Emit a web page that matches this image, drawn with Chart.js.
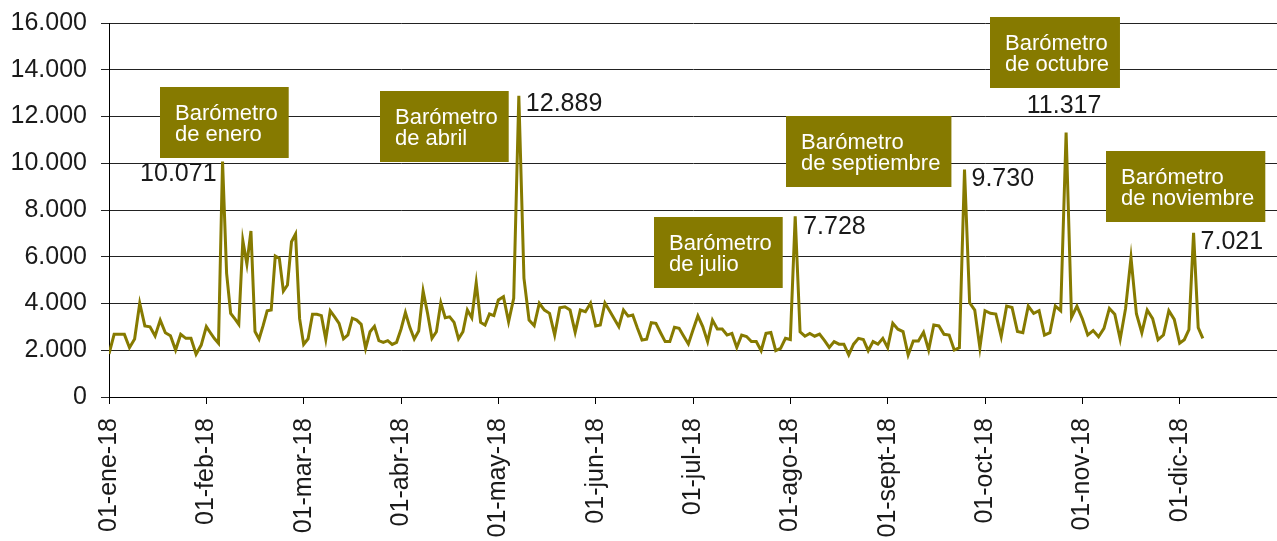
<!DOCTYPE html>
<html lang="es">
<head>
<meta charset="utf-8">
<script src="https://cdn.jsdelivr.net/npm/chart.js@4.4.1/dist/chart.umd.min.js"></script>
<style>
  html, body { margin: 0; padding: 0; background: #fff; }
  #wrap { width: 1277px; height: 541px; }
</style>
</head>
<body>
<div id="wrap"><canvas id="grafico" width="1277" height="541"></canvas></div>
<script>
// Etiquetas del eje X (una por mes)
const etiquetasMes = ['01-ene-18','01-feb-18','01-mar-18','01-abr-18','01-may-18','01-jun-18',
                      '01-jul-18','01-ago-18','01-sept-18','01-oct-18','01-nov-18','01-dic-18'];

// Valores diarios (días hábiles) leídos por mes
const ene = [1840, 2680, 2680, 2680, 2110, 2480, 4010, 3040, 3000, 2610, 3290, 2750, 2620, 2010, 2680, 2510, 2510, 1830, 2220];
const feb = [3010, 2750, 2500, 2300, 10071, 5290, 3580, 3350, 3110, 6690, 5690, 7100, 2800, 2480, 3050, 3690, 3720, 6030, 5930, 4530, 4790, 6640, 6970, 3350];
const mar = [2250, 2490, 3540, 3540, 3480, 2470, 3690, 3430, 3150, 2490, 2660, 3370, 3290, 3110, 2080, 2790, 3020, 2410, 2340, 2410, 2250, 2340];
const abr = [2900, 3610, 2980, 2480, 2820, 4530, 3580, 2510, 2790, 4030, 3390, 3430, 3190, 2490, 2790, 3720, 3390, 4890, 3190, 3080, 3550, 3480];
const may = [4150, 4290, 3220, 4220, 12889, 5080, 3290, 3050, 4010, 3720, 3580, 2650, 3820, 3860, 3720, 2770, 3720, 3650, 4010];
const jun = [3040, 3080, 4020, 3690, 3350, 3010, 3720, 3460, 3510, 2950, 2440, 2470, 3180, 3150, 2750, 2370, 2370, 2980, 2940, 2600, 2270];
const jul = [2870, 3470, 3010, 2370, 3290, 2910, 2910, 2650, 2720, 2120, 2650, 2590, 2370, 2370, 1980, 2720, 2760, 1980, 2080, 2510];
const ago = [2460, 7728, 2790, 2600, 2720, 2600, 2690, 2420, 2120, 2370, 2260, 2260, 1800, 2260, 2510, 2460, 1980, 2370, 2260, 2510];
const sep = [2110, 3150, 2900, 2800, 1800, 2400, 2400, 2770, 2010, 3080, 3040, 2680, 2650, 2010, 2110, 9730, 4030, 3720, 2110];
const oct = [3690, 3580, 3550, 2580, 3890, 3830, 2800, 2750, 3890, 3580, 3690, 2650, 2750, 3890, 3690, 11317, 3410, 3890];
const nov = [3350, 2650, 2840, 2580, 2940, 3790, 3540, 2470, 3790, 5960, 3560, 2750, 3720, 3350, 2450, 2650, 3690, 3320];
const dic = [2300, 2450, 2880, 7021, 2970, 2510];
const PUNTOS_DIC = 21; // diciembre incompleto

const meses = [ene, feb, mar, abr, may, jun, jul, ago, sep, oct, nov, dic];

// Barómetros: texto, mes del pico y posición de la caja (en unidades de datos)
const barometros = [
  { texto: ['Barómetro', 'de enero'],      mes: 1,  cajaX: 0.524, cajaY: 13260, alinear: 'right',  dx: -6, dy: 13 },
  { texto: ['Barómetro', 'de abril'],      mes: 4,  cajaX: 2.784, cajaY: 13090, alinear: 'left',   dx: 7,  dy: 8 },
  { texto: ['Barómetro', 'de julio'],      mes: 7,  cajaX: 5.600, cajaY: 7700,  alinear: 'left',   dx: 8,  dy: 11 },
  { texto: ['Barómetro', 'de septiembre'], mes: 8,  cajaX: 6.956, cajaY: 12020, alinear: 'left',   dx: 7,  dy: 10 },
  { texto: ['Barómetro', 'de octubre'],    mes: 9,  cajaX: 9.052, cajaY: 16270, alinear: 'center', dx: -2, dy: -26 },
  { texto: ['Barómetro', 'de noviembre'],  mes: 11, cajaX: 10.243, cajaY: 10520, alinear: 'left',  dx: 7,  dy: 9 }
];

const OLIVA = '#867a00';
const FUENTE = '"Liberation Sans", Arial, Helvetica, sans-serif';

function miles(v) {
  return String(Math.round(v)).replace(/\B(?=(\d{3})+(?!\d))/g, '.');
}

function pasoMes(m) {
  return m === 11 ? PUNTOS_DIC : meses[m].length;
}

// puntos: mes + fracción del mes
const puntos = [];
meses.forEach((serie, m) => {
  const n = pasoMes(m);
  serie.forEach((v, j) => puntos.push({ x: m + j / n, y: v }));
});

const pluginBarometros = {
  id: 'barometros',
  afterDraw(chart) {
    const ctx = chart.ctx;
    const xs = chart.scales.x, ys = chart.scales.y;
    ctx.save();
    barometros.forEach(b => {
      // caja
      ctx.font = '22px ' + FUENTE;
      const ancho = Math.max(...b.texto.map(t => ctx.measureText(t).width)) + 26;
      const alto = 71;
      const x0 = Math.round(xs.getPixelForValue(b.cajaX));
      const y0 = Math.round(ys.getPixelForValue(b.cajaY));
      ctx.fillStyle = OLIVA;
      ctx.fillRect(x0, y0, ancho, alto);
      ctx.fillStyle = '#fff';
      ctx.textAlign = 'left';
      ctx.textBaseline = 'alphabetic';
      b.texto.forEach((t, i) => ctx.fillText(t, x0 + 15, y0 + 33 + i * 21));

      // valor del pico
      const serie = meses[b.mes];
      let idx = 0;
      serie.forEach((v, j) => { if (v > serie[idx]) idx = j; });
      const px = xs.getPixelForValue(b.mes + idx / pasoMes(b.mes));
      const py = ys.getPixelForValue(serie[idx]);
      ctx.font = '25px ' + FUENTE;
      ctx.fillStyle = '#1a1a1a';
      ctx.textAlign = b.alinear;
      ctx.textBaseline = 'middle';
      ctx.fillText(miles(serie[idx]), px + b.dx, py + b.dy);
    });
    ctx.restore();
  }
};

new Chart(document.getElementById('grafico'), {
  type: 'line',
  data: {
    datasets: [{
      data: puntos,
      borderColor: OLIVA,
      borderWidth: 3,
      pointRadius: 0,
      tension: 0,
      fill: false
    }]
  },
  options: {
    responsive: false,
    animation: false,
    layout: { padding: { top: 23, right: 0, left: 0, bottom: 0 } },
    plugins: { legend: { display: false }, tooltip: { enabled: false } },
    scales: {
      x: {
        type: 'linear',
        min: 0,
        max: 12,
        afterBuildTicks: s => { s.ticks = etiquetasMes.map((_, i) => ({ value: i })); },
        afterFit: s => { s.height = 144; s.paddingLeft = 0; s.paddingRight = 0; },
        ticks: {
          autoSkip: false,
          maxRotation: 90,
          minRotation: 90,
          padding: 14,
          color: '#1a1a1a',
          font: { family: FUENTE, size: 25 },
          callback: v => etiquetasMes[v] || ''
        },
        grid: { drawOnChartArea: false, drawTicks: true, tickLength: 7, color: '#000', lineWidth: 1 },
        border: { color: '#000', width: 1 }
      },
      y: {
        min: 0,
        max: 16000,
        afterFit: s => { s.width = 109; s.paddingTop = 0; s.paddingBottom = 0; },
        ticks: {
          stepSize: 2000,
          padding: 14,
          color: '#1a1a1a',
          font: { family: FUENTE, size: 25 },
          callback: v => miles(v)
        },
        grid: { color: '#222', lineWidth: 1, tickLength: 8 },
        border: { color: '#000', width: 1 }
      }
    }
  },
  plugins: [pluginBarometros]
});
</script>
</body>
</html>
